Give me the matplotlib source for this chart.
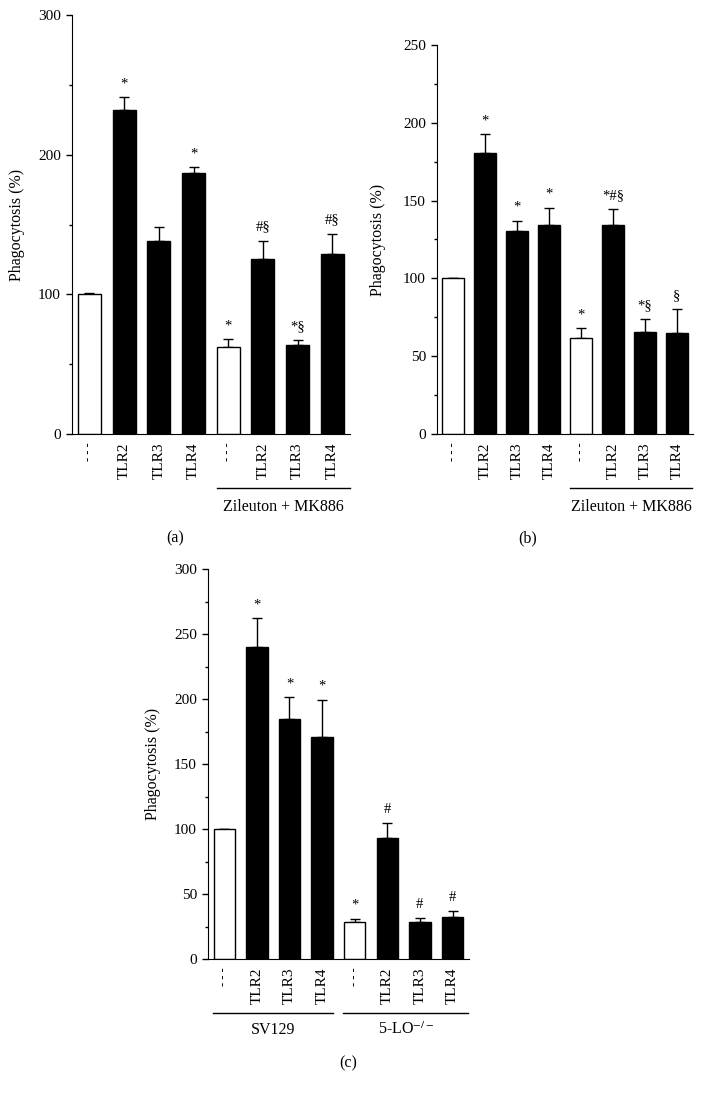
import numpy as np
import matplotlib
matplotlib.use("Agg")
import matplotlib.pyplot as plt
import matplotlib.transforms as mtransforms
from matplotlib.ticker import MultipleLocator

plt.rcParams['font.family'] = ['Liberation Serif', 'DejaVu Serif']
plt.rcParams['mathtext.fontset'] = 'stix'

labels = ['- - -', 'TLR2', 'TLR3', 'TLR4', '- - -', 'TLR2', 'TLR3', 'TLR4']
filled = [False, True, True, True, False, True, True, True]

# panel (a)
mean_a = [100, 232, 138.5, 187, 62.5, 125, 63.5, 129]
sem_a = [0.8, 9, 9.5, 4, 5.5, 13.5, 3.5, 14.5]
marks_a = ['', '*', '', '*', '*', '#§', '*§', '#§']

# panel (b)
mean_b = [100, 180.5, 130.5, 134.5, 61.7, 134.5, 65.7, 64.8]
sem_b = [0, 12, 6.5, 11, 6.3, 10, 8, 15.5]
marks_b = ['', '*', '*', '*', '*', '*#§', '*§', '§']

# panel (c)
mean_c = [100, 240, 184.5, 171, 28.7, 93.3, 28.7, 32.5]
sem_c = [0, 22, 17, 28.5, 2.3, 11.7, 3.1, 4.7]
marks_c = ['', '*', '*', '*', '*', '#', '#', '#']


def draw_panel(ax, means, sems, marks, ymax, major, label_x):
    x = np.arange(len(means))
    colors = ['black' if f else 'white' for f in filled]
    ax.bar(x, means, width=0.66, color=colors, edgecolor='black', linewidth=1.0, zorder=2)
    ax.errorbar(x, means, yerr=[np.zeros(len(sems)), sems], fmt='none',
                ecolor='black', elinewidth=1.0, capsize=3.5, capthick=1.0, zorder=1)
    for xi, m, s, t in zip(x, means, sems, marks):
        if t:
            ax.annotate(t, (xi, m + s), xytext=(0, 5), textcoords='offset points',
                        ha='center', va='bottom', fontsize=10.5)
    ax.set_xlim(-0.5, 7.5)
    ax.set_ylim(0, ymax)
    ax.spines['top'].set_visible(False)
    ax.spines['right'].set_visible(False)
    ax.spines['left'].set_bounds(0, ymax)
    ax.yaxis.set_major_locator(MultipleLocator(major))
    ax.yaxis.set_minor_locator(MultipleLocator(major / 2))
    ax.tick_params(axis='y', which='major', length=4.5, width=1, labelsize=11)
    ax.tick_params(axis='y', which='minor', length=2.5, width=1)
    ax.set_xticks(x)
    ax.set_xticklabels(labels, rotation=90, fontsize=11)
    for lab in ax.get_xticklabels():
        if lab.get_text().startswith('-'):
            lab.set_fontsize(9)
    ax.tick_params(axis='x', length=0, pad=6)
    ax.set_ylabel('Phagocytosis (%)', fontsize=11.5)
    ax.yaxis.set_label_coords(label_x, 0.5)


def group_line(ax, x0, x1, yline, ytext, text):
    trans = mtransforms.blended_transform_factory(ax.transData, ax.transAxes)
    ax.plot([x0, x1], [yline, yline], color='black', lw=1.0, transform=trans, clip_on=False)
    ax.text((x0 + x1) / 2, ytext, text, transform=trans, ha='center', va='center', fontsize=11.5)


fig = plt.figure(figsize=(7.05, 10.96), dpi=100)

ax_a = fig.add_axes([0.1021, 0.604, 0.394, 0.3823])
draw_panel(ax_a, mean_a, sem_a, marks_a, 300, 100, -0.17)
group_line(ax_a, 3.67, 7.5, -0.129, -0.174, 'Zileuton + MK886')

ax_b = fig.add_axes([0.6199, 0.604, 0.363, 0.355])
draw_panel(ax_b, mean_b, sem_b, marks_b, 250, 50, -0.2)
group_line(ax_b, 3.67, 7.48, -0.139, -0.188, 'Zileuton + MK886')

ax_c = fig.add_axes([0.295, 0.125, 0.370, 0.3558])
draw_panel(ax_c, mean_c, sem_c, marks_c, 300, 50, -0.18)
group_line(ax_c, -0.34, 3.33, -0.138, -0.182, 'SV129')
group_line(ax_c, 3.64, 7.49, -0.138, -0.182, '5-LO$^{-/-}$')

fig.text(0.248, 0.509, '(a)', ha='center', va='center', fontsize=11.5)
fig.text(0.749, 0.509, '(b)', ha='center', va='center', fontsize=11.5)
fig.text(0.494, 0.030, '(c)', ha='center', va='center', fontsize=11.5)

fig.savefig('out.png', dpi=100)
